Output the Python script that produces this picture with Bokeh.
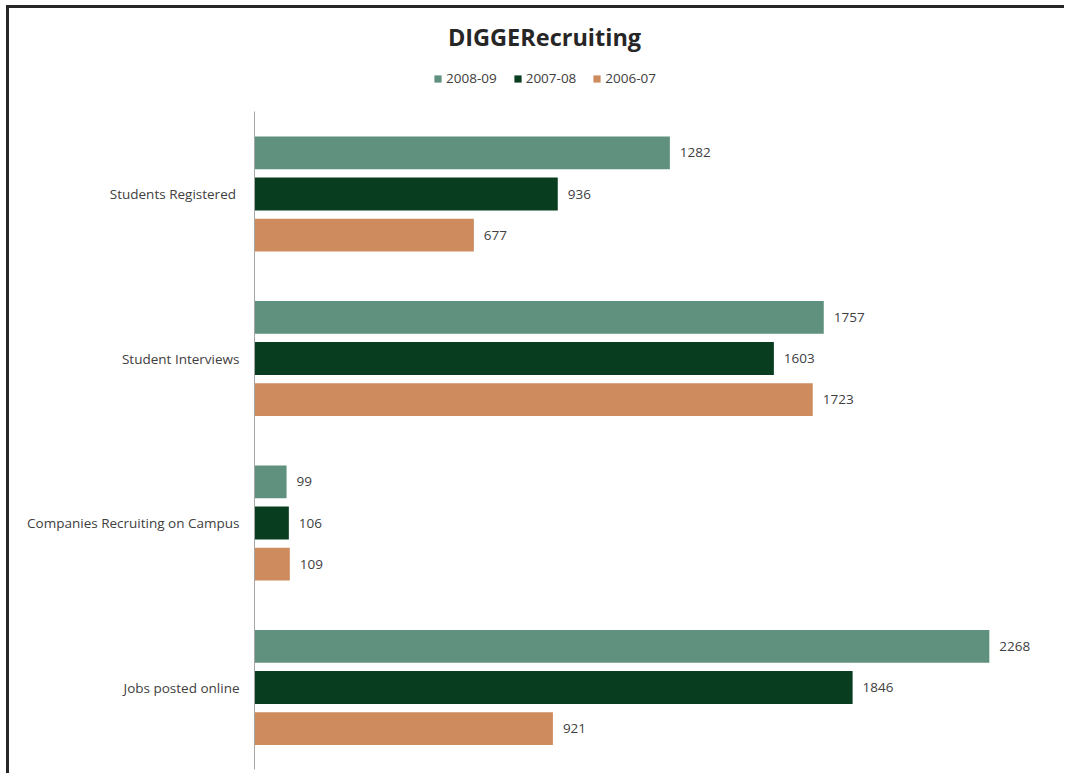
from bokeh.plotting import figure
from bokeh.models import ColumnDataSource, Label, Legend, LegendItem, FixedTicker
from bokeh.core.properties import value
from bokeh.embed import file_html
from bokeh.resources import INLINE

categories = ["Students Registered ", "Student Interviews", "Companies Recruiting on Campus", "Jobs posted online"]
series_names = ["2008-09", "2007-08", "2006-07"]
values_2008_09 = [1282, 1757, 99, 2268]
values_2007_08 = [936, 1603, 106, 1846]
values_2006_07 = [677, 1723, 109, 921]
colors = ["#5f917e", "#093d20", "#cd8b5e"]
offsets = [0.25, 0.0, -0.25]
title_text = "DIGGERecruiting"

FONT = "Open Sans"
TXT = "#404040"

W, H = 1058, 768
ML = 245
FW = 810

n = len(categories)
ypos = [n - 1 - i for i in range(n)]  # first category on top

p = figure(
    width=W, height=H, output_backend="svg", toolbar_location=None,
    x_range=(0, 2500), y_range=(-0.541, 4.128), x_axis_location=None,
    min_border_left=ML, min_border_top=0, min_border_right=W - ML - FW,
    min_border_bottom=0, title=None,
)
p.styles = {"margin-left": "9px", "margin-top": "8px",
            "box-shadow": "-3px -3px 0 0 #262626"}
p.outline_line_color = None
p.xgrid.visible = False
p.ygrid.visible = False

ax = p.yaxis[0]
ax.ticker = FixedTicker(ticks=ypos)
ax.major_label_overrides = {y: c for y, c in zip(ypos, categories)}
ax.bounds = (-0.5, n - 0.5)
ax.axis_line_color = "#a6a6a6"
ax.axis_line_width = 1
ax.major_tick_line_color = None
ax.minor_tick_line_color = None
ax.major_tick_out = 0
ax.major_tick_in = 0
ax.major_label_standoff = 15
ax.major_label_text_font = FONT
ax.major_label_text_font_size = "13.5px"
ax.major_label_text_color = TXT

all_values = [values_2008_09, values_2007_08, values_2006_07]
items = []
for name, vals, col, off in zip(series_names, all_values, colors, offsets):
    src = ColumnDataSource(dict(y=[y + off for y in ypos], v=vals, lbl=[str(x) for x in vals]))
    r = p.hbar(y="y", right="v", left=0, height=0.2,
               source=src, fill_color=col, line_color=None)
    p.text(x="v", y="y", text="lbl", source=src,
           x_offset=10, text_baseline="middle", text_align="left",
           text_font=value(FONT), text_font_size="13.5px", text_color=TXT)
    items.append(LegendItem(label=name, renderers=[r]))

legend = Legend(items=items, orientation="horizontal", location=(179, 689),
                glyph_width=9, glyph_height=9, label_standoff=4, spacing=16,
                label_height=14, padding=0, margin=0, border_line_color=None,
                background_fill_alpha=0, label_text_font=FONT,
                label_text_font_size="13.5px", label_text_color=TXT)
p.add_layout(legend, "center")

title = Label(x=290, y=740, x_units="screen", y_units="screen",
              text=title_text, text_align="center", text_baseline="middle",
              text_font=FONT, text_font_size="23.5px", text_font_style="bold",
              text_color="#262626")
p.add_layout(title)

open("out.html", "w").write(file_html(p, INLINE))
